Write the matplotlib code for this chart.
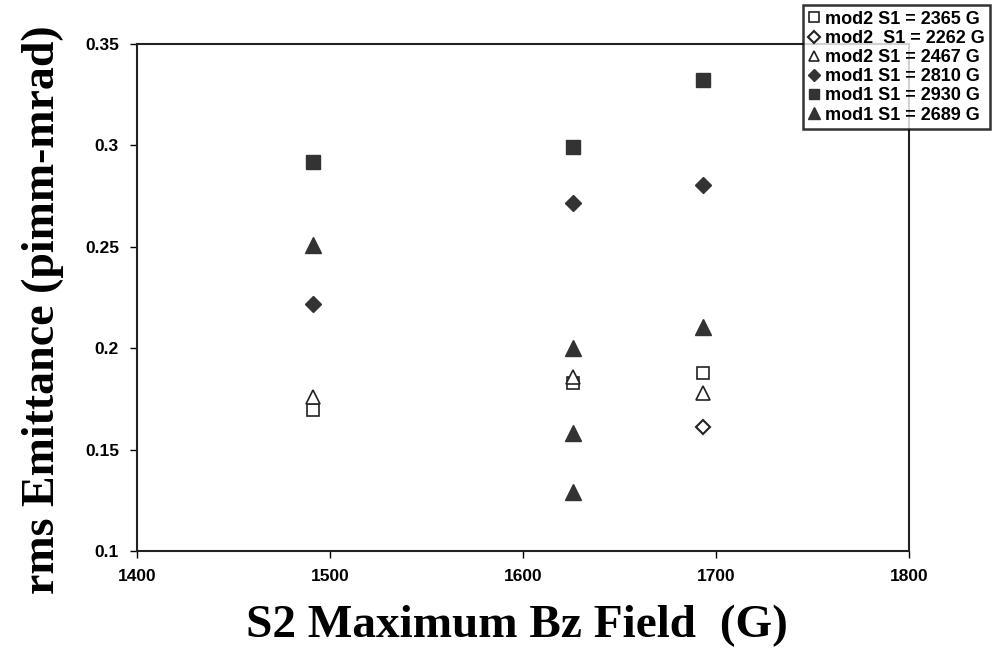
import matplotlib
matplotlib.use("Agg")
from matplotlib import pyplot as plt

# data
labels = ["mod2 S1 = 2365 G", "mod2  S1 = 2262 G", "mod2 S1 = 2467 G",
          "mod1 S1 = 2810 G", "mod1 S1 = 2930 G", "mod1 S1 = 2689 G"]
x_m2_2365 = [1491, 1626, 1693]
y_m2_2365 = [0.1695, 0.183, 0.188]
x_m2_2262 = [1693]
y_m2_2262 = [0.161]
x_m2_2467 = [1491, 1626, 1693]
y_m2_2467 = [0.176, 0.186, 0.178]
x_m1_2810 = [1491, 1626, 1693]
y_m1_2810 = [0.222, 0.2714, 0.2803]
x_m1_2930 = [1491, 1626, 1693]
y_m1_2930 = [0.2916, 0.299, 0.3325]
x_m1_2689 = [1491, 1626, 1626, 1626, 1693]
y_m1_2689 = [0.2507, 0.200, 0.158, 0.129, 0.2104]

xticks = [1400, 1500, 1600, 1700, 1800]
yticks = [0.1, 0.15, 0.2, 0.25, 0.3, 0.35]
ytick_labels = ["0.1", "0.15", "0.2", "0.25", "0.3", "0.35"]

fig = plt.figure(figsize=(9.95, 6.59), dpi=100)
ax = fig.add_axes([0.1377, 0.1639, 0.7759, 0.7693])

dark = "#333333"
ax.plot(x_m2_2365, y_m2_2365, "s", ms=9, mfc="white", mec="#222222", mew=1.2, ls="none", label=labels[0])
ax.plot(x_m2_2262, y_m2_2262, "D", ms=7.5, mfc="white", mec="#222222", mew=1.5, ls="none", label=labels[1])
ax.plot(x_m2_2467, y_m2_2467, "^", ms=10, mfc="white", mec="#222222", mew=1.2, ls="none", label=labels[2])
ax.plot(x_m1_2810, y_m1_2810, "D", ms=8.5, color=dark, ls="none", label=labels[3])
ax.plot(x_m1_2930, y_m1_2930, "s", ms=10.5, color=dark, ls="none", label=labels[4])
ax.plot(x_m1_2689, y_m1_2689, "^", ms=12, color=dark, ls="none", label=labels[5])

ax.set_xlim(1400, 1800)
ax.set_ylim(0.1, 0.35)
ax.set_xticks(xticks)
ax.set_yticks(yticks)
ax.set_yticklabels(ytick_labels)
ax.tick_params(direction="out", length=5, width=1, labelsize=12.5, pad=8)
for t in ax.get_xticklabels() + ax.get_yticklabels():
    t.set_fontweight("bold")
    t.set_family("Liberation Sans")
for s in ax.spines.values():
    s.set_linewidth(1.5)
    s.set_color("#222222")

fig.text(0.043, 1 - 310 / 659, "rms Emittance (pimm-mrad)", rotation=90,
         ha="center", va="center", fontsize=33, fontweight="bold", family="Liberation Serif")
fig.text(517 / 995, 1 - 626 / 659, "S2 Maximum Bz Field  (G)",
         ha="center", va="center", fontsize=34, fontweight="bold", family="Liberation Serif")

leg = fig.legend(loc="upper right", bbox_to_anchor=(0.995, 0.992), borderaxespad=0,
                 prop={"family": "Liberation Sans", "weight": "bold", "size": 13},
                 frameon=True, fancybox=False, edgecolor="black", handlelength=0.6,
                 handletextpad=0.3, labelspacing=0.12, borderpad=0.3, markerscale=0.75)
leg.get_frame().set_linewidth(1.8)

fig.savefig("out.png", dpi=100)
